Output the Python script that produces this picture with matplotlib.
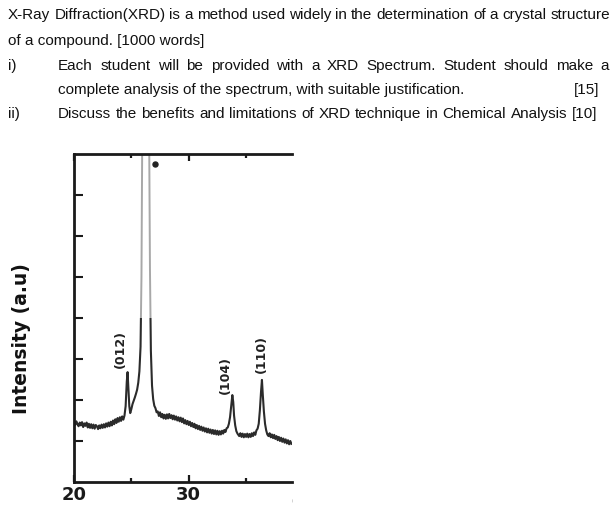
import matplotlib
matplotlib.use("Agg")
import matplotlib.pyplot as plt
from matplotlib import font_manager as fm
from matplotlib.transforms import IdentityTransform, Bbox
from matplotlib.patches import Rectangle

# ---------------- data ----------------
two_theta = [
    20.0, 20.1, 20.2, 20.3, 20.4, 20.5, 20.6, 20.7, 20.8, 20.9,
    21.0, 21.1, 21.2, 21.3, 21.4, 21.5, 21.6, 21.7, 21.8, 21.9,
    22.0, 22.1, 22.2, 22.3, 22.4, 22.5, 22.6, 22.7, 22.8, 22.9,
    23.0, 23.1, 23.2, 23.3, 23.4, 23.5, 23.6, 23.7, 23.8, 23.9,
    24.0, 24.1, 24.2, 24.3, 24.4, 24.5, 24.6, 24.67, 24.75, 24.82,
    24.9, 25.0, 25.1, 25.2, 25.3, 25.4, 25.5, 25.6, 25.7, 25.8,
    25.88, 25.95, 26.25, 26.55, 26.62, 26.7, 26.8, 26.9, 27.0, 27.1,
    27.2, 27.3, 27.4, 27.5, 27.6, 27.7, 27.8, 27.9, 28.0, 28.1,
    28.2, 28.3, 28.4, 28.5, 28.6, 28.7, 28.8, 28.9, 29.0, 29.1,
    29.2, 29.3, 29.4, 29.5, 29.6, 29.7, 29.8, 29.9, 30.0, 30.1,
    30.2, 30.3, 30.4, 30.5, 30.6, 30.7, 30.8, 30.9, 31.0, 31.1,
    31.2, 31.3, 31.4, 31.5, 31.6, 31.7, 31.8, 31.9, 32.0, 32.1,
    32.2, 32.3, 32.4, 32.5, 32.6, 32.7, 32.8, 32.9, 33.0, 33.1,
    33.2, 33.3, 33.4, 33.5, 33.6, 33.7, 33.8, 33.88, 33.95, 34.05,
    34.15, 34.25, 34.4, 34.5, 34.6, 34.7, 34.8, 34.9, 35.0, 35.1,
    35.2, 35.3, 35.4, 35.5, 35.6, 35.7, 35.8, 35.9, 36.0, 36.1,
    36.2, 36.3, 36.38, 36.45, 36.55, 36.65, 36.75, 36.85, 36.95, 37.05,
    37.15, 37.25, 37.35, 37.45, 37.55, 37.65, 37.75, 37.85, 37.95, 38.05,
    38.15, 38.25, 38.35, 38.45, 38.55, 38.65, 38.75, 38.85, 38.95,
]
intensity = [
    1.47, 1.39, 1.48, 1.41, 1.36, 1.45, 1.38, 1.46, 1.34, 1.43,
    1.37, 1.45, 1.33, 1.42, 1.32, 1.41, 1.31, 1.40, 1.30, 1.39,
    1.36, 1.29, 1.38, 1.31, 1.40, 1.32, 1.41, 1.33, 1.43, 1.35,
    1.45, 1.36, 1.47, 1.38, 1.50, 1.41, 1.53, 1.44, 1.56, 1.47,
    1.58, 1.49, 1.60, 1.52, 1.62, 1.85, 2.45, 2.68, 2.25, 1.85,
    1.68, 1.78, 1.90, 1.98, 2.06, 2.15, 2.25, 2.42, 2.70, 3.30,
    5.00, 8.50, 20.0, 8.50, 5.20, 3.20, 2.35, 2.02, 1.86, 1.80,
    1.70, 1.72, 1.61, 1.70, 1.58, 1.66, 1.55, 1.64, 1.54, 1.65,
    1.55, 1.66, 1.56, 1.63, 1.53, 1.62, 1.52, 1.60, 1.50, 1.58,
    1.48, 1.57, 1.46, 1.55, 1.43, 1.51, 1.41, 1.49, 1.39, 1.47,
    1.36, 1.44, 1.34, 1.42, 1.31, 1.39, 1.29, 1.37, 1.27, 1.35,
    1.25, 1.33, 1.23, 1.31, 1.21, 1.30, 1.20, 1.28, 1.18, 1.27,
    1.17, 1.26, 1.16, 1.25, 1.15, 1.24, 1.16, 1.25, 1.18, 1.27,
    1.22, 1.31, 1.33, 1.42, 1.58, 1.85, 2.12, 1.95, 1.62, 1.38,
    1.24, 1.18, 1.12, 1.19, 1.10, 1.18, 1.09, 1.17, 1.10, 1.18,
    1.09, 1.17, 1.10, 1.19, 1.12, 1.21, 1.15, 1.26, 1.30, 1.42,
    1.75, 2.20, 2.49, 2.15, 1.72, 1.42, 1.26, 1.16, 1.12, 1.19,
    1.09, 1.16, 1.07, 1.15, 1.05, 1.12, 1.02, 1.10, 1.00, 1.08,
    0.98, 1.06, 0.96, 1.04, 0.94, 1.02, 0.92, 1.00, 0.93,
]
peak_labels = ["(012)", "(104)", "(110)"]
peak_label_x = [24.05, 33.2, 36.35]
peak_label_y = [3.24, 2.6, 3.12]
star_x = [27.05]
star_y = [7.76]
x_ticks_major = [20, 30]
x_tick_labels = ["20", "30"]
x_ticks_minor = [25, 35]
y_ticks = [1, 2, 3, 4, 5, 6, 7]
y_label = "Intensity (a.u)"

line1 = "X-Ray Diffraction(XRD) is a method used widely in the determination of a crystal structure"
line2 = "of a compound. [1000 words]"
line3 = "Each student will be provided with a XRD Spectrum. Student should make a"
line4 = "complete analysis of the spectrum, with suitable justification."
line4_mark = "[15]"
line5 = "Discuss the benefits and limitations of XRD technique in Chemical Analysis [10]"

_names = {f.name for f in fm.fontManager.ttflist}
para_font = "Liberation Sans Narrow" if "Liberation Sans Narrow" in _names else "Liberation Sans"

# ---------------- figure ----------------
W, H = 616, 508
fig = plt.figure(figsize=(W / 100, H / 100), dpi=100)
fig.patch.set_facecolor("white")
r = fig.canvas.get_renderer()
T = IdentityTransform()


def width_of(s, size, **kw):
    t = fig.text(0, 0, s, fontsize=size, family=para_font, transform=T, **kw)
    w = t.get_window_extent(renderer=r).width
    t.remove()
    return w


base = 11.0
fs1 = base * 602.0 / width_of(line1, base)
fs5 = base * 539.0 / width_of(line5, base)
fs = 0.5 * (fs1 + fs5)


def put(s, x, ybase, ha="left"):
    fig.text(x, H - ybase, s, fontsize=fs, family=para_font, transform=T,
             ha=ha, va="baseline", color="#111111")


def justify(s, x0, x1, ybase):
    words = s.split(" ")
    ws = [width_of(w, fs) for w in words]
    gap = (x1 - x0 - sum(ws)) / (len(words) - 1)
    x = x0
    for w, wd in zip(words, ws):
        put(w, x, ybase)
        x += wd + gap


justify(line1, 8, 610, 19)
put(line2, 8, 45)
put("i)", 8, 70)
justify(line3, 58, 609, 70)
put(line4, 58, 94)
put(line4_mark, 599, 94, ha="right")
put("ii)", 8, 118)
justify(line5, 58, 597, 118)

# ---------------- axes ----------------
ax = fig.add_axes([74 / W, 1 - 482 / H, 218 / W, 328 / H])
ax.set_xlim(20, 39)
ax.set_ylim(0, 8)

ink = "#1a1a1a"
ln_dark, = ax.plot(two_theta, intensity, color="#2b2b2b", lw=1.5)
ln_dark.set_clip_path(Rectangle((20, 0), 19, 4.0, transform=ax.transData))
ln_gray, = ax.plot(two_theta, intensity, color="#a8a8a8", lw=1.4)
ln_gray.set_clip_path(Rectangle((20, 4.0), 19, 4.0, transform=ax.transData))

ax.plot(star_x, star_y, "o", ms=3.6, color="#222222")

for lab, lx, ly in zip(peak_labels, peak_label_x, peak_label_y):
    ax.text(lx, ly, lab, rotation=90, ha="center", va="center",
            fontsize=9, fontweight="bold", color="#222222", family="DejaVu Sans")

for s in ["left", "bottom", "top"]:
    ax.spines[s].set_linewidth(2.0)
    ax.spines[s].set_color(ink)
ax.spines["right"].set_visible(False)

ax.set_xticks(x_ticks_major)
ax.set_xticklabels(x_tick_labels)
ax.set_xticks(x_ticks_minor, minor=True)
ax.set_yticks(y_ticks)
ax.set_yticklabels([])
ax.tick_params(axis="x", which="major", direction="in", length=5, width=1.6,
               top=True, bottom=True, pad=3, labelsize=13, colors=ink)
ax.tick_params(axis="x", which="minor", direction="in", length=3, width=1.6,
               top=True, bottom=True, colors=ink)
ax.tick_params(axis="y", which="major", direction="in", length=6.5, width=1.5,
               left=True, right=False, colors=ink)
for t in ax.get_xticklabels():
    t.set_fontweight("bold")
    t.set_family("DejaVu Sans")

t40 = ax.text(40, -0.22, "40", transform=ax.transData, ha="center", va="top",
              fontsize=13, fontweight="bold", color=ink, family="DejaVu Sans")
t40.set_clip_on(True)
t40.set_clip_box(Bbox([[0, 0], [293, H]]))

fig.text(22, H - 339, y_label, rotation=90, ha="center", va="center",
         fontsize=13.5, fontweight="bold", color="#111111", family="DejaVu Sans",
         transform=T)

fig.savefig("out.png", dpi=100, facecolor="white")
